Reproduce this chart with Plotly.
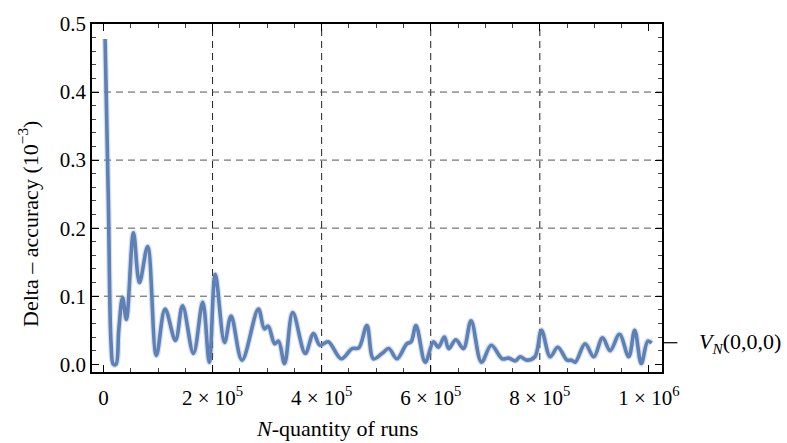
import plotly.graph_objects as go

# Data (N in runs, delta accuracy in 10^-3)
N_RUNS = [3000, 9000, 14000, 18000, 23000, 28000, 35000, 42000, 55000, 66000,
          81000, 97000, 113000, 132000, 145000, 165000, 182000, 194000, 205000, 222000,
          234000, 254000, 284000, 295000, 302000, 314000, 321000, 332000, 347000, 370000,
          385000, 397000, 412000, 436000, 456000, 468000, 483000, 495000, 511000, 523000,
          538000, 556000, 564000, 573000, 590000, 605000, 614000, 625000, 633000, 646000,
          660000, 674000, 693000, 711000, 731000, 743000, 755000, 764000, 776000, 791000,
          803000, 819000, 833000, 850000, 858000, 865000, 883000, 899000, 915000, 929000,
          946000, 963000, 974000, 986000, 998000, 1005000]
DELTA = [0.478, 0.24, 0.03, 0.0, 0.0, 0.05, 0.098, 0.066, 0.193, 0.12,
         0.173, 0.013, 0.081, 0.035, 0.086, 0.016, 0.091, 0.003, 0.132, 0.032,
         0.071, 0.006, 0.081, 0.052, 0.056, 0.030, 0.034, 0.001, 0.076, 0.016,
         0.045, 0.028, 0.033, 0.008, 0.023, 0.024, 0.057, 0.008, 0.016, 0.023,
         0.008, 0.030, 0.033, 0.057, 0.003, 0.033, 0.025, 0.040, 0.023, 0.036,
         0.023, 0.064, 0.003, 0.028, 0.008, 0.009, 0.005, 0.011, 0.006, 0.011,
         0.050, 0.011, 0.025, 0.006, 0.006, 0.003, 0.030, 0.011, 0.039, 0.020,
         0.044, 0.011, 0.050, 0.001, 0.034, 0.031]

X_TICKS = [0, 200000, 400000, 600000, 800000, 1000000]
X_TICK_TEXT = ["0", "2 × 10<sup>5</sup>", "4 × 10<sup>5</sup>", "6 × 10<sup>5</sup>",
               "8 × 10<sup>5</sup>", "1 × 10<sup>6</sup>"]
Y_TICKS = [0.0, 0.1, 0.2, 0.3, 0.4, 0.5]
Y_TICK_TEXT = ["0.0", "0.1", "0.2", "0.3", "0.4", "0.5"]
GRID_X = [200000, 400000, 600000, 800000]
GRID_Y = [0.1, 0.2, 0.3, 0.4]
REF_LEVEL = 0.0316
REF_LABEL = "<i>V</i><sub><i>N</i></sub>(0,0,0)"

FONT = "Liberation Serif"
BLUE = "#5E81B5"

fig = go.Figure()
fig.add_trace(go.Scatter(x=N_RUNS, y=DELTA, mode="lines",
                         line=dict(color="rgba(94,129,181,0.25)", width=6, shape="spline", smoothing=1.0),
                         hoverinfo="skip", showlegend=False))
fig.add_trace(go.Scatter(x=N_RUNS, y=DELTA, mode="lines",
                         line=dict(color=BLUE, width=3.6, shape="spline", smoothing=1.0),
                         showlegend=False))

shapes = []
for gx in GRID_X:
    shapes.append(dict(type="line", xref="x", yref="paper", x0=gx, x1=gx, y0=0, y1=1,
                       line=dict(color="#222222", width=1, dash="7px,5px"), layer="below"))
for gy in GRID_Y:
    shapes.append(dict(type="line", xref="paper", yref="y", x0=0, x1=1, y0=gy, y1=gy,
                       line=dict(color="#555555", width=1, dash="7px,5px"), layer="below"))
shapes.append(dict(type="line", xref="paper", yref="y", x0=1, x1=1.027, y0=REF_LEVEL, y1=REF_LEVEL,
                   line=dict(color="black", width=1.2)))

axis_common = dict(showline=True, linecolor="black", linewidth=1.6, mirror="ticks",
                   ticks="inside", ticklen=7, tickwidth=1, tickcolor="black",
                   showgrid=False, zeroline=False, tickfont=dict(family=FONT, size=21, color="black"))

fig.update_layout(
    width=787, height=443,
    margin=dict(l=92, r=125, t=20, b=71),
    paper_bgcolor="white", plot_bgcolor="white",
    font=dict(family=FONT, size=21, color="black"),
    shapes=shapes,
    xaxis=dict(range=[-21000, 1024000], tickmode="array", tickvals=X_TICKS, ticktext=X_TICK_TEXT,
               ticklabelstandoff=6,
               minor=dict(tickmode="linear", tick0=0, dtick=50000, ticks="inside", ticklen=4,
                          tickcolor="#444444", showgrid=False),
               **axis_common),
    yaxis=dict(range=[-0.0114, 0.5], tickmode="array", tickvals=Y_TICKS, ticktext=Y_TICK_TEXT,
               minor=dict(tickmode="linear", tick0=0, dtick=0.02, ticks="inside", ticklen=4,
                          tickcolor="#444444", showgrid=False),
               **axis_common),
    annotations=[
        dict(text="<i>N</i>-quantity of runs", xref="paper", yref="paper", x=0.43, y=-0.162,
             showarrow=False, xanchor="center", yanchor="middle", font=dict(family=FONT, size=22)),
        dict(text="Delta – accuracy (10<sup>−3</sup>)", xref="paper", yref="paper", x=-0.112, y=0.426,
             textangle=-90, showarrow=False, xanchor="center", yanchor="middle",
             font=dict(family=FONT, size=22)),
        dict(text=REF_LABEL, xref="paper", yref="y", x=1.061, y=REF_LEVEL, showarrow=False,
             xanchor="left", yanchor="middle", font=dict(family=FONT, size=22)),
    ],
)

fig.write_html("out.html",
               config={"displayModeBar": False},
               post_script="document.body.style.margin='0';document.body.style.padding='0';"
                           "document.body.style.overflow='hidden';")
